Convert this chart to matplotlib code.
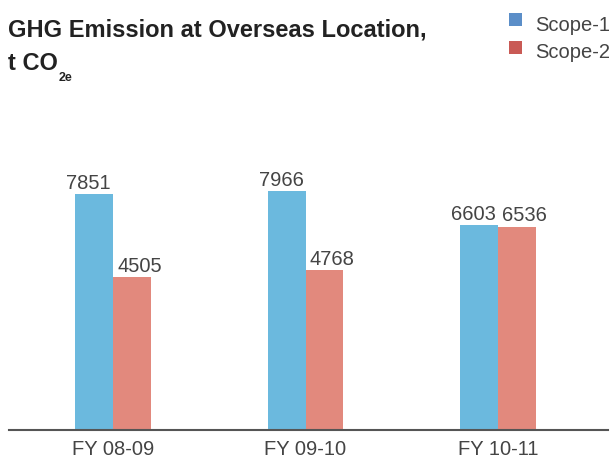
import numpy as np
import matplotlib
matplotlib.use("Agg")
import matplotlib.pyplot as plt
from matplotlib.patches import Rectangle

categories = ["FY 08-09", "FY 09-10", "FY 10-11"]
scope1 = [7851, 7966, 6603]
scope2 = [4505, 4768, 6536]
series_names = ["Scope-1", "Scope-2"]

bar_colors = ["#6bb9de", "#e2897d"]
legend_colors = ["#5b8ec8", "#c95a55"]
text_color = "#444444"

plt.rcParams['font.family'] = ['Liberation Sans', 'DejaVu Sans']

W, H = 615, 459
fig = plt.figure(figsize=(W / 100, H / 100), dpi=100)
ax = fig.add_axes([9 / W, 29 / H, 599 / W, 330 / H])

base = -1661  # visual baseline of the original chart
x = np.arange(len(categories))
bw = 0.197
b1 = ax.bar(x - bw / 2, np.array(scope1) - base, bw, bottom=base,
            color=bar_colors[0], linewidth=0)
b2 = ax.bar(x + bw / 2, np.array(scope2) - base, bw, bottom=base,
            color=bar_colors[1], linewidth=0)
labs1 = ax.bar_label(b1, labels=[str(v) for v in scope1], padding=1,
                     fontsize=14.5, color=text_color)
labs2 = ax.bar_label(b2, labels=[str(v) for v in scope2], padding=1,
                     fontsize=14.5, color=text_color)
for a in labs1:
    a.xyann = (-4, 1)
for a in labs2:
    a.xyann = (5.5, 1)

ax.set_xlim(-0.5403, 2.5714)
ax.set_ylim(base, base + 330 / 0.02481)
for s in ["left", "right", "top"]:
    ax.spines[s].set_visible(False)
ax.spines["bottom"].set_color("#555555")
ax.spines["bottom"].set_linewidth(1.5)
ax.set_yticks([])
ax.set_xticks(x)
ax.set_xticklabels(categories, fontsize=14.5, color=text_color)
ax.tick_params(axis='x', length=0, pad=7)

# Title
fig.text(8 / W, 1 - 37 / H, "GHG Emission at Overseas Location,",
         fontsize=17, fontweight='bold', color="#222222", va='baseline', ha='left')
t2 = fig.text(8 / W, 1 - 70 / H, "t CO", fontsize=17, fontweight='bold',
              color="#222222", va='baseline', ha='left')
fig.canvas.draw()
ax.annotate("2e", xy=(1, 0), xycoords=t2, xytext=(0.3, -4.5),
            textcoords='offset points', fontsize=9, fontweight='bold',
            color="#222222", va='baseline', ha='left', annotation_clip=False)

# Legend
for i, (name, c) in enumerate(zip(series_names, legend_colors)):
    top = 13 + 28 * i
    fig.add_artist(Rectangle((509 / W, 1 - (top + 13) / H), 13 / W, 13 / H,
                             transform=fig.transFigure, color=c, lw=0))
    fig.text(535 / W, 1 - (31 + 27 * i) / H, name, fontsize=14.5,
             color=text_color, va='baseline', ha='left')

fig.savefig("out.png", dpi=100)
